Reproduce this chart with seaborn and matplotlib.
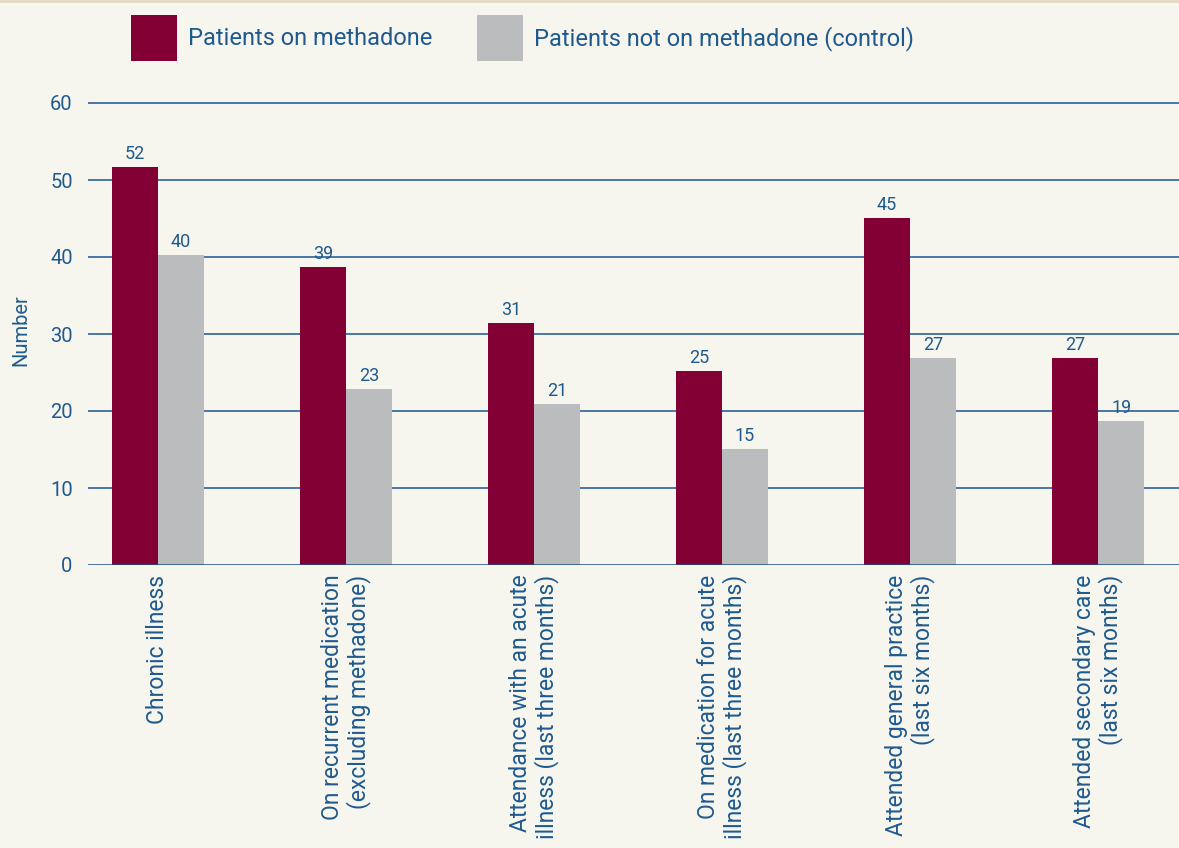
import matplotlib
matplotlib.use("Agg")
import matplotlib.pyplot as plt
from matplotlib.lines import Line2D
import seaborn as sns
import pandas as pd

categories = ["Chronic illness",
              "On recurrent medication\n(excluding methadone)",
              "Attendance with an acute\nillness (last three months)",
              "On medication for acute\nillness (last three months)",
              "Attended general practice\n(last six months)",
              "Attended secondary care\n(last six months)"]
on_methadone = [51.7, 38.7, 31.4, 25.2, 45.1, 26.9]
not_on_methadone = [40.3, 22.9, 20.9, 15.1, 26.9, 18.7]
series = ["Patients on methadone", "Patients not on methadone (control)"]
yticks = [0, 10, 20, 30, 40, 50, 60]

bg = "#f6f5ee"
blue = "#1f5a8e"
grid_c = "#2c6198"

df = pd.DataFrame({
    "category": categories * 2,
    "value": on_methadone + not_on_methadone,
    "group": [series[0]] * 6 + [series[1]] * 6,
})

sns.set_style("white")
plt.rcParams["font.family"] = ["Roboto", "DejaVu Sans"]

fig = plt.figure(figsize=(11.79, 8.48), dpi=100, facecolor=bg)
ax = fig.add_axes([88 / 1179, 1 - 565 / 848, 1 - 88 / 1179, (565 - 95.3) / 848])
ax.set_facecolor(bg)

sns.barplot(data=df, x="category", y="value", hue="group", ax=ax,
            palette=["#820033", "#bbbcbe"], width=0.49, gap=0,
            saturation=1, zorder=3, linewidth=0)

for c in ax.containers:
    ax.bar_label(c, fmt="%.0f", padding=3, color=blue, fontsize=13)

ax.set_ylim(0, 61)
ax.set_xlim(-0.372, 5.43)
ax.set_yticks(yticks)
for y in yticks[1:]:
    ax.axhline(y, color=grid_c, lw=1.2, zorder=1)
ax.axhline(0, color="#1b4f82", lw=1.8, zorder=4)
for s in ax.spines.values():
    s.set_visible(False)

ax.tick_params(axis="y", length=0, pad=11, labelcolor=blue, labelsize=14.5)
ax.tick_params(axis="x", length=0, pad=7, labelcolor=blue, labelsize=16.5)
for lab in ax.get_xticklabels():
    lab.set_rotation(90)
    lab.set_va("top")
    lab.set_ha("center")
    lab.set_multialignment("right")
    lab.set_linespacing(1.1)
ax.set_xlabel("")
ax.set_ylabel("Number", color=blue, fontsize=14.5, labelpad=14)

handles, labels = ax.get_legend_handles_labels()
ax.get_legend().remove()
fig.legend(handles, labels, loc="upper left", bbox_to_anchor=(131 / 1179, 1 - 15 / 848),
           ncol=2, frameon=False, fontsize=17, labelcolor=blue,
           handlelength=1.95, handleheight=2.6, handletextpad=0.45,
           columnspacing=1.9, borderpad=0, borderaxespad=0)

fig.add_artist(Line2D([0, 1], [0.999, 0.999], transform=fig.transFigure,
                      color="#e2dcc2", lw=2))

fig.savefig("out.png", dpi=100, facecolor=bg)
